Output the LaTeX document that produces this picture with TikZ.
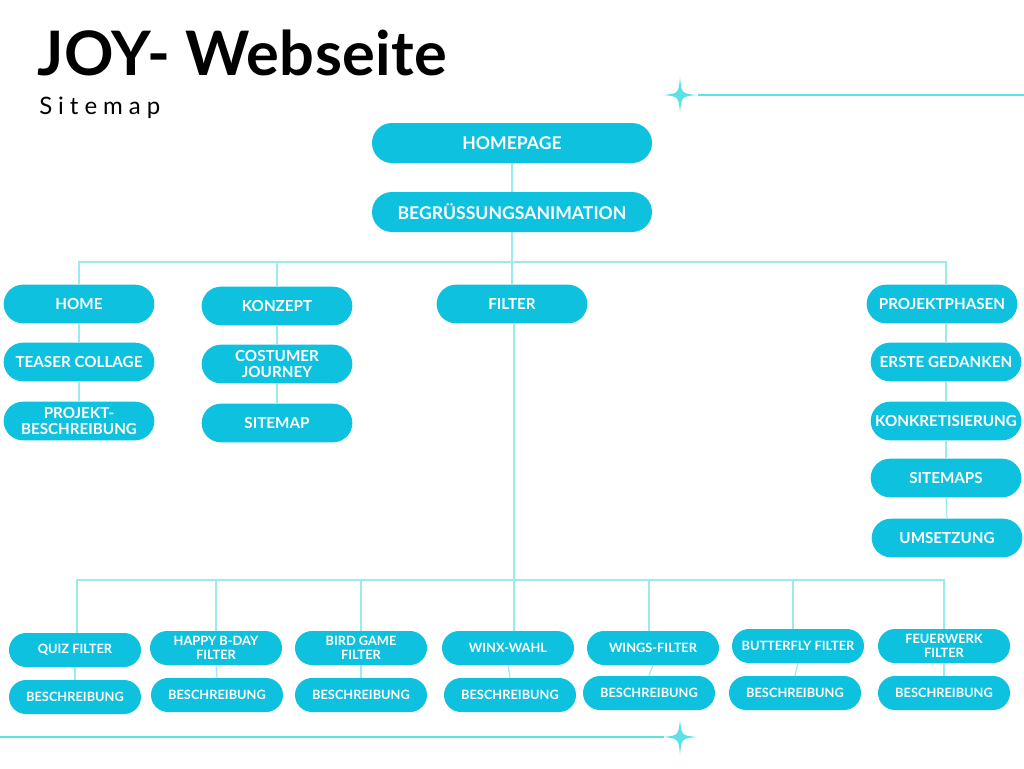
\documentclass[tikz,border=0pt]{standalone}
\usepackage{fontspec}
\setmainfont{Lato}
\setsansfont{Lato}
\definecolor{pill}{HTML}{0EC1DF}
\definecolor{wire}{HTML}{9AEAF0}
\definecolor{spark}{HTML}{5CE1E6}
\begin{document}
\begin{tikzpicture}[x=0.75pt,y=-0.75pt,
  pillbox/.style={fill=pill, draw=none, rounded corners=14.5pt, text=white,
    font=\bfseries\fontsize{11.4}{11.4}\selectfont, align=center,
    minimum width=113pt, minimum height=29pt, inner sep=0pt},
  bigpill/.style={pillbox, minimum width=210pt, minimum height=30pt,
    rounded corners=15pt, font=\bfseries\fontsize{13.2}{14}\selectfont},
  smallpill/.style={pillbox, minimum width=99pt, minimum height=25.5pt,
    rounded corners=12.75pt, font=\bfseries\fontsize{9.6}{10.5}\selectfont},
  link/.style={draw=wire, line width=0.9pt},
  deco/.style={draw=spark, line width=0.9pt},
  pics/sparkle/.style={code={
    \fill[spark] (0,-18) .. controls (1.5,-1.5) .. (17,0)
      .. controls (1.5,1.5) .. (0,18) .. controls (-1.5,1.5) .. (-17,0)
      .. controls (-1.5,-1.5) .. (0,-18) -- cycle;}}]
\useasboundingbox (0,0) rectangle (1024,768);
\fill[white] (0,0) rectangle (1024,768);

% heading
\node[anchor=base west, inner sep=0pt, font=\bfseries\addfontfeature{LetterSpace=0.6}\fontsize{46}{50}\selectfont] (title) at (37,75) {JOY- Webseite};
\node[anchor=base west, inner sep=0pt, font=\addfontfeature{LetterSpace=25}\fontsize{18}{20}\selectfont] (sub) at (39,114) {Sitemap};

% decorative lines and sparkles
\coordinate (topR) at (1024,95);
\coordinate (botL) at (0,737);
\path (680,95) pic {sparkle} coordinate (sparkT);
\path (680,737) pic {sparkle} coordinate (sparkB);
\draw[deco] (sparkT) ++(18,0) coordinate (sparkTe) (sparkTe) -- (topR);
\draw[deco] (botL) -- ([xshift=-12pt]sparkB);

% top levels
\node[bigpill] (homepage) at (512,143) {HOMEPAGE};
\node[bigpill] (begr) at (512,212) {BEGRÜSSUNGSANIMATION};

% first level
\node[pillbox] (home) at (79,304) {HOME};
\node[pillbox] (konzept) at (277,306) {KONZEPT};
\node[pillbox] (filter) at (512,304) {FILTER};
\node[pillbox] (phasen) at (942,304) {PROJEKTPHASEN};

% HOME column
\node[pillbox] (teaser) at (79,362) {TEASER COLLAGE};
\node[pillbox] (beschr) at (79,421) {PROJEKT-\\BESCHREIBUNG};

% KONZEPT column
\node[pillbox] (journey) at (277,364) {COSTUMER\\JOURNEY};
\node[pillbox] (sitemap) at (277,423) {SITEMAP};

% PROJEKTPHASEN column
\node[pillbox] (gedanken) at (946,362) {ERSTE GEDANKEN};
\node[pillbox] (konkret) at (946,421) {KONKRETISIERUNG};
\node[pillbox] (sitemaps) at (946,478) {SITEMAPS};
\node[pillbox] (umsetzung) at (947,538) {UMSETZUNG};

% filters
\node[smallpill] (f1) at (75,650) {QUIZ FILTER};
\node[smallpill] (f2) at (216,648) {HAPPY B-DAY\\FILTER};
\node[smallpill] (f3) at (361,648) {BIRD GAME\\FILTER};
\node[smallpill] (f4) at (508,648) {WINX-WAHL};
\node[smallpill] (f5) at (653,648) {WINGS-FILTER};
\node[smallpill] (f6) at (798,646) {BUTTERFLY FILTER};
\node[smallpill] (f7) at (944,646) {FEUERWERK\\FILTER};

\node[smallpill] (b1) at (75,697) {BESCHREIBUNG};
\node[smallpill] (b2) at (217,695) {BESCHREIBUNG};
\node[smallpill] (b3) at (361,695) {BESCHREIBUNG};
\node[smallpill] (b4) at (510,695) {BESCHREIBUNG};
\node[smallpill] (b5) at (649,693) {BESCHREIBUNG};
\node[smallpill] (b6) at (795,693) {BESCHREIBUNG};
\node[smallpill] (b7) at (944,693) {BESCHREIBUNG};

% bus lines
\coordinate (busA) at (512,262);
\coordinate (busB) at (514,580);

% connectors
\draw[link] (homepage.south) -- (begr.north);
\draw[link] (begr.south) -- (filter.north);
\draw[link] (home.north) |- (busA) -| ([xshift=3pt]phasen.north);
\draw[link] (konzept.north) -- (konzept.north |- busA);
\draw[link] (home.south) -- (teaser.north);
\draw[link] (teaser.south) -- (beschr.north);
\draw[link] (konzept.south) -- (journey.north);
\draw[link] (journey.south) -- (sitemap.north);
\draw[link] ([xshift=3pt]phasen.south) -- (gedanken.north);
\draw[link] (gedanken.south) -- (konkret.north);
\draw[link] (konkret.south) -- (sitemaps.north);
\draw[link] (sitemaps.south) -- (umsetzung.north);
\draw[link] ([xshift=1.5pt]filter.south) -- (busB);
\draw[link] ([xshift=1.5pt]f1.north) |- (busB) -| (f7.north);
\draw[link] (f2.north) -- (f2.north |- busB);
\draw[link] (f3.north) -- (f3.north |- busB);
\draw[link] ([xshift=4.5pt]f4.north) -- ([xshift=4.5pt]f4.north |- busB);
\draw[link] ([xshift=-3pt]f5.north) -- ([xshift=-3pt]f5.north |- busB);
\draw[link] ([xshift=-3.75pt]f6.north) -- ([xshift=-3.75pt]f6.north |- busB);
\foreach \i in {1,...,7} {\draw[link] (f\i.south) -- (b\i.north);}
\end{tikzpicture}
\end{document}
